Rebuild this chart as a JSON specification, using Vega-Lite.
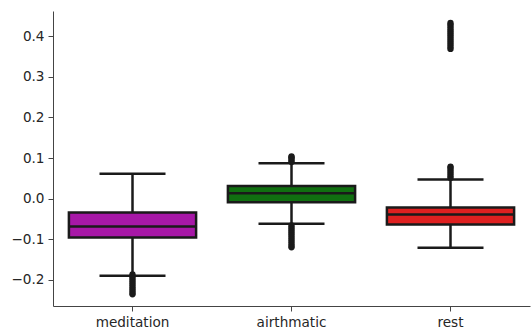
{
  "$schema": "https://vega.github.io/schema/vega-lite/v6.json",
  "width": 477,
  "height": 295,
  "autosize": {"type": "none"},
  "padding": {"left": 53, "top": 11, "right": 1, "bottom": 23},
  "background": "white",
  "config": {
    "view": {"stroke": null},
    "font": "DejaVu Sans",
    "axis": {
      "labelFont": "DejaVu Sans",
      "labelFontSize": 13.6,
      "labelColor": "#262626",
      "domainColor": "#444444",
      "domainWidth": 1,
      "tickColor": "#444444",
      "tickSize": 5,
      "labelPadding": 4,
      "grid": false,
      "title": null
    }
  },
  "datasets": {
    "stats": [
      {"group": "meditation", "lower": -0.19, "q1": -0.096, "median": -0.069, "q3": -0.0345, "upper": 0.0616},
      {"group": "airthmatic", "lower": -0.062, "q1": -0.009, "median": 0.013, "q3": 0.031, "upper": 0.087},
      {"group": "rest", "lower": -0.121, "q1": -0.064, "median": -0.039, "q3": -0.022, "upper": 0.047}
    ],
    "outliers": [
      {"group": "meditation", "value": -0.187},
      {"group": "meditation", "value": -0.192},
      {"group": "meditation", "value": -0.197},
      {"group": "meditation", "value": -0.202},
      {"group": "meditation", "value": -0.207},
      {"group": "meditation", "value": -0.212},
      {"group": "meditation", "value": -0.217},
      {"group": "meditation", "value": -0.222},
      {"group": "meditation", "value": -0.227},
      {"group": "meditation", "value": -0.232},
      {"group": "meditation", "value": -0.236},
      {"group": "airthmatic", "value": 0.09},
      {"group": "airthmatic", "value": 0.094},
      {"group": "airthmatic", "value": 0.098},
      {"group": "airthmatic", "value": 0.102},
      {"group": "airthmatic", "value": 0.104},
      {"group": "airthmatic", "value": -0.066},
      {"group": "airthmatic", "value": -0.071},
      {"group": "airthmatic", "value": -0.076},
      {"group": "airthmatic", "value": -0.081},
      {"group": "airthmatic", "value": -0.086},
      {"group": "airthmatic", "value": -0.091},
      {"group": "airthmatic", "value": -0.096},
      {"group": "airthmatic", "value": -0.101},
      {"group": "airthmatic", "value": -0.106},
      {"group": "airthmatic", "value": -0.111},
      {"group": "airthmatic", "value": -0.116},
      {"group": "airthmatic", "value": -0.12},
      {"group": "rest", "value": 0.051},
      {"group": "rest", "value": 0.056},
      {"group": "rest", "value": 0.061},
      {"group": "rest", "value": 0.066},
      {"group": "rest", "value": 0.071},
      {"group": "rest", "value": 0.076},
      {"group": "rest", "value": 0.079},
      {"group": "rest", "value": 0.369},
      {"group": "rest", "value": 0.374},
      {"group": "rest", "value": 0.379},
      {"group": "rest", "value": 0.384},
      {"group": "rest", "value": 0.389},
      {"group": "rest", "value": 0.394},
      {"group": "rest", "value": 0.399},
      {"group": "rest", "value": 0.404},
      {"group": "rest", "value": 0.409},
      {"group": "rest", "value": 0.414},
      {"group": "rest", "value": 0.419},
      {"group": "rest", "value": 0.424},
      {"group": "rest", "value": 0.429},
      {"group": "rest", "value": 0.433}
    ]
  },
  "encoding": {
    "x": {
      "field": "group",
      "type": "nominal",
      "sort": ["meditation", "airthmatic", "rest"],
      "scale": {"paddingInner": 0, "paddingOuter": 0},
      "axis": {"labelAngle": 0, "title": null}
    }
  },
  "layer": [
    {
      "data": {"name": "stats"},
      "mark": {"type": "rule", "color": "#1a1a1a", "strokeWidth": 2.5},
      "encoding": {
        "y": {"field": "lower", "type": "quantitative", "scale": {"domain": [-0.2647, 0.4625], "nice": false, "zero": false}, "axis": {"values": [-0.2, -0.1, 0, 0.1, 0.2, 0.3, 0.4], "format": ".1f", "title": null}},
        "y2": {"field": "q1"}
      }
    },
    {
      "data": {"name": "stats"},
      "mark": {"type": "rule", "color": "#1a1a1a", "strokeWidth": 2.5},
      "encoding": {
        "y": {"field": "q3", "type": "quantitative"},
        "y2": {"field": "upper"}
      }
    },
    {
      "data": {"name": "stats"},
      "mark": {"type": "bar", "width": {"band": 0.8}, "stroke": "#1a1a1a", "strokeWidth": 2.5, "opacity": 1},
      "encoding": {
        "y": {"field": "q1", "type": "quantitative"},
        "y2": {"field": "q3"},
        "color": {
          "field": "group",
          "type": "nominal",
          "scale": {"domain": ["meditation", "airthmatic", "rest"], "range": ["#a718a7", "#107010", "#df2020"]},
          "legend": null
        }
      }
    },
    {
      "data": {"name": "stats"},
      "mark": {"type": "tick", "color": "#1a1a1a", "size": 127, "thickness": 2.5, "opacity": 1},
      "encoding": {"y": {"field": "median", "type": "quantitative"}}
    },
    {
      "data": {"name": "stats"},
      "mark": {"type": "tick", "color": "#1a1a1a", "size": 66, "thickness": 2.5, "opacity": 1},
      "encoding": {"y": {"field": "lower", "type": "quantitative"}}
    },
    {
      "data": {"name": "stats"},
      "mark": {"type": "tick", "color": "#1a1a1a", "size": 66, "thickness": 2.5, "opacity": 1},
      "encoding": {"y": {"field": "upper", "type": "quantitative"}}
    },
    {
      "data": {"name": "outliers"},
      "mark": {"type": "point", "shape": "circle", "filled": true, "color": "#1a1a1a", "size": 40, "opacity": 1},
      "encoding": {"y": {"field": "value", "type": "quantitative"}}
    }
  ]
}
